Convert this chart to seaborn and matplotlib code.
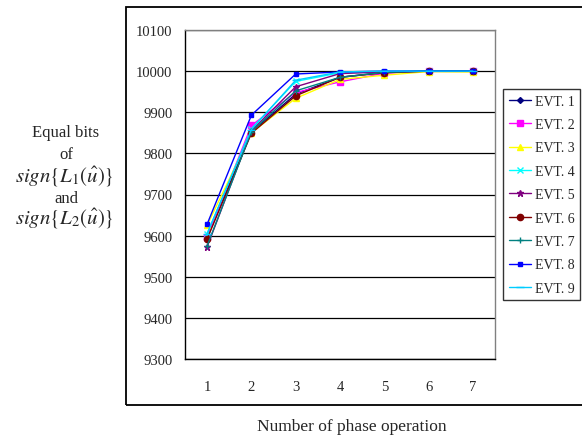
import numpy as np
import pandas as pd
import matplotlib
matplotlib.use('Agg')
import matplotlib.pyplot as plt
from matplotlib.patches import Rectangle
import seaborn as sns

# data
phase = [1, 2, 3, 4, 5, 6, 7]
series_names = ['EVT. 1', 'EVT. 2', 'EVT. 3', 'EVT. 4', 'EVT. 5',
                'EVT. 6', 'EVT. 7', 'EVT. 8', 'EVT. 9']
evt1 = [9600, 9852, 9944, 9985, 9997, 10000, 10000]
evt2 = [9597, 9868, 9948, 9974, 9995, 10000, 10000]
evt3 = [9625, 9850, 9934, 9980, 9990, 9999, 9998]
evt4 = [9605, 9860, 9975, 9996, 9999, 10000, 10000]
evt5 = [9573, 9855, 9962, 9994, 9998, 10000, 10000]
evt6 = [9592, 9849, 9940, 9985, 9996, 10000, 10000]
evt7 = [9575, 9853, 9952, 9985, 9997, 10000, 10000]
evt8 = [9628, 9893, 9993, 9998, 10000, 10000, 10000]
evt9 = [9605, 9858, 9978, 9998, 10000, 10000, 10000]
y_ticks = [9300, 9400, 9500, 9600, 9700, 9800, 9900, 10000, 10100]

all_vals = [evt1, evt2, evt3, evt4, evt5, evt6, evt7, evt8, evt9]
colors = ['#000080', '#ff00ff', '#ffff00', '#00ffff', '#800080',
          '#800000', '#008080', '#0000ff', '#00ccff']
markers = ['D', 's', '^', 'x', '*', 'o', '+', 's', '_']
msizes = [3, 4.5, 5, 4, 4.5, 4.5, 4.5, 2.5, 5.5]

sns.set_style('white')
plt.rcParams['font.family'] = ['Liberation Serif', 'DejaVu Serif']
plt.rcParams['mathtext.fontset'] = 'stix'

fig = plt.figure(figsize=(5.82, 4.39), dpi=100)
W, H = 582, 439
ax = fig.add_axes([185 / W, 1 - 360 / H, 310 / W, 329 / H])

for name, vals, c, m, ms in zip(series_names, all_vals, colors, markers, msizes):
    df = pd.DataFrame({'phase': phase, 'bits': vals})
    sns.lineplot(data=df, x='phase', y='bits', ax=ax, color=c, marker=m,
                 markersize=ms, markeredgecolor=c, markeredgewidth=1,
                 linewidth=1, label=name)

ax.set_xlim(0.5, 7.5)
ax.set_ylim(9300, 10100)
ax.set_yticks(y_ticks)
ax.set_yticklabels([str(v) for v in y_ticks])
ax.set_xticks(phase)
ax.set_xticks([1.5, 2.5, 3.5, 4.5, 5.5, 6.5], minor=True)
ax.tick_params(axis='x', which='major', length=0, pad=15, labelsize=10.5)
ax.tick_params(axis='x', which='minor', length=4, direction='in', color='black')
ax.tick_params(axis='y', length=0, pad=9, labelsize=10.5)
ax.set_xlabel('')
ax.set_ylabel('')
ax.grid(axis='y', color='black', linewidth=0.9)
ax.set_axisbelow(True)
for s in ['top', 'right']:
    ax.spines[s].set_color('#808080')
    ax.spines[s].set_linewidth(1)
for s in ['left', 'bottom']:
    ax.spines[s].set_color('black')
    ax.spines[s].set_linewidth(1)

leg = ax.legend(loc='upper left', bbox_to_anchor=(503 / W, 1 - 90 / H),
                bbox_transform=fig.transFigure, frameon=True, fancybox=False,
                fontsize=10, handlelength=1.6, handletextpad=0.3,
                labelspacing=0.75, borderpad=0.4, borderaxespad=0)
leg.get_frame().set_edgecolor('black')
leg.get_frame().set_linewidth(1)

# outer chart border
fig.patches.append(Rectangle((126 / W, 1 - 406 / H), 1.0, 398 / H,
                             transform=fig.transFigure, fill=False,
                             edgecolor='black', linewidth=1.3))

# y axis title as separate lines
fig.text(66 / W, 1 - 133 / H, 'Equal bits', ha='center', va='center', fontsize=12)
fig.text(66 / W, 1 - 155 / H, 'of', ha='center', va='center', fontsize=12)
fig.text(64 / W, 1 - 177 / H, r'$sign\{L_1(\hat{u})\}$', ha='center', va='center', fontsize=15)
fig.text(66 / W, 1 - 199 / H, 'and', ha='center', va='center', fontsize=12)
fig.text(64 / W, 1 - 219 / H, r'$sign\{L_2(\hat{u})\}$', ha='center', va='center', fontsize=15)

fig.text(352 / W, 1 - 427 / H, 'Number of phase operation', ha='center',
         va='center', fontsize=12.5)

fig.savefig('out.png', dpi=100)
